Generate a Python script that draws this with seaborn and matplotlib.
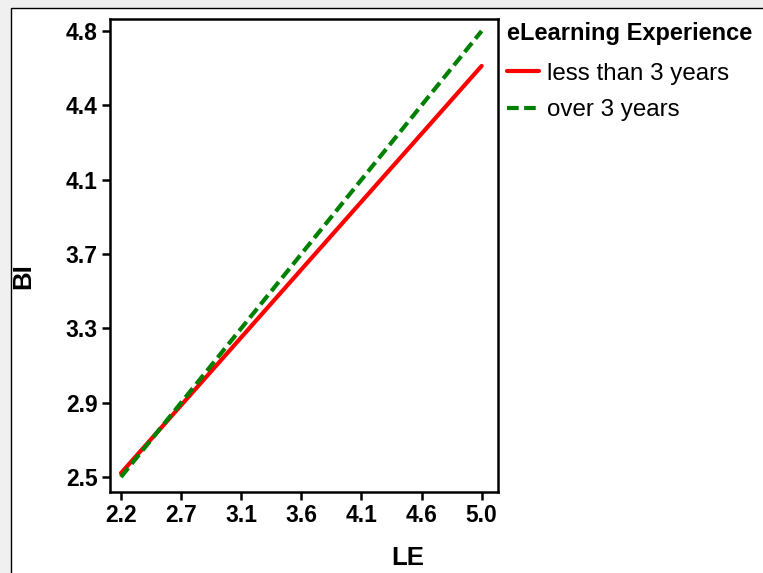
import matplotlib
matplotlib.use("Agg")
import matplotlib.pyplot as plt
from matplotlib.patches import Rectangle
import numpy as np
import pandas as pd
import seaborn as sns

# Simple-slopes of BI on LE by eLearning experience group
le_range = [2.2, 5.0]
bi_less_than_3 = [2.52, 4.62]
bi_over_3 = [2.50, 4.80]
groups = ["less than 3 years", "over 3 years"]

x_tick_labels = ["2.2", "2.7", "3.1", "3.6", "4.1", "4.6", "5.0"]
y_tick_labels = ["2.5", "2.9", "3.3", "3.7", "4.1", "4.4", "4.8"]

df = pd.DataFrame({
    "LE": le_range * 2,
    "BI": bi_less_than_3 + bi_over_3,
    "eLearning Experience": [groups[0]] * 2 + [groups[1]] * 2,
})

sns.set_style("white")
plt.rcParams["font.family"] = ["Liberation Sans", "DejaVu Sans"]
plt.rcParams["text.color"] = "black"
plt.rcParams["axes.labelcolor"] = "black"
plt.rcParams["xtick.color"] = "black"
plt.rcParams["ytick.color"] = "black"

W, H = 763, 573
fig = plt.figure(figsize=(W / 100, H / 100), dpi=100, facecolor="#f0f0f0")

# white panel with a thin dark frame on its top and left
fig.add_artist(Rectangle((10.5 / W, -0.1), 1.2, 1.1 - 8.5 / H,
                         transform=fig.transFigure, facecolor="white",
                         edgecolor="black", linewidth=1.0, zorder=-1))

ax = fig.add_axes([110 / W, 1 - 492 / H, 388 / W, 473 / H])
ax.set_facecolor("white")

sns.lineplot(data=df, x="LE", y="BI", hue="eLearning Experience",
             style="eLearning Experience",
             palette={groups[0]: "#ff0000", groups[1]: "#008000"},
             dashes={groups[0]: "", groups[1]: (2.8, 1.3)},
             linewidth=3, ax=ax)

ax.set_xlim(2.115, 5.127)
ax.set_ylim(2.423, 4.862)
ax.set_xticks(np.linspace(le_range[0], le_range[1], len(x_tick_labels)))
ax.set_xticklabels(x_tick_labels)
ax.set_yticks(np.linspace(2.5, 4.8, len(y_tick_labels)))
ax.set_yticklabels(y_tick_labels)

for lab in ax.get_xticklabels() + ax.get_yticklabels():
    lab.set_fontweight("bold")
    lab.set_fontsize(16.5)
    lab.set_color("black")
ax.tick_params(axis="both", direction="out", length=6, width=1.8,
               color="black", pad=3, left=True, bottom=True)

for s in ax.spines.values():
    s.set_linewidth(1.8)
    s.set_color("black")
    s.set_visible(True)

ax.set_xlabel("LE", fontsize=18.5, fontweight="bold", color="black")
ax.set_ylabel("BI", fontsize=18.5, fontweight="bold", color="black")
ax.xaxis.set_label_coords((408 - 110) / 388, (492 - 546) / 473)
ax.yaxis.set_label_coords((35 - 110) / 388, (492 - 276) / 473)

leg = ax.legend(title="eLearning Experience", loc="upper left",
                bbox_to_anchor=(497 / W, 1 - 12 / H),
                bbox_transform=fig.transFigure, frameon=False,
                fontsize=17.4, title_fontproperties={"weight": "bold", "size": 17},
                handlelength=1.35, handletextpad=0.3, labelspacing=0.6,
                borderaxespad=0, alignment="left")
leg.get_title().set_color("black")
for t in leg.get_texts():
    t.set_color("black")
leg._legend_box.sep = 13

fig.savefig("out.png", dpi=100, facecolor=fig.get_facecolor())
